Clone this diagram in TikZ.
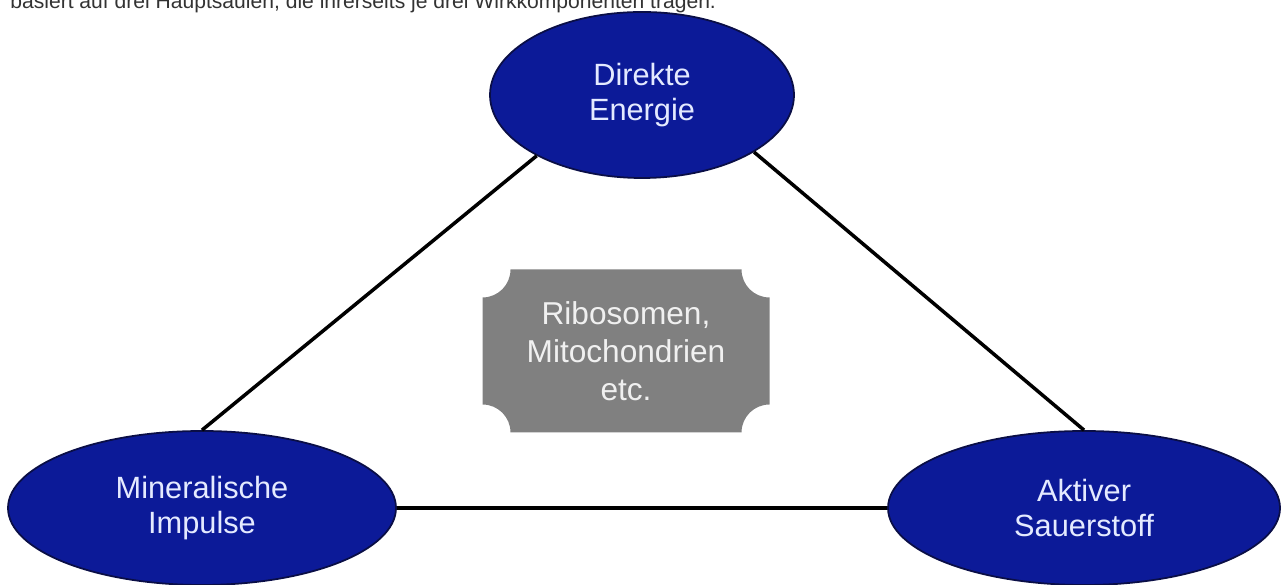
\documentclass[tikz,border=0pt]{standalone}
\usepackage{fontspec}
\setmainfont{Liberation Sans}
\usepackage{tikz}
\usetikzlibrary{
  positioning,
  calc,
  shapes.geometric
}
\definecolor{pillarblue}{RGB}{12,26,152}
\definecolor{pillaredge}{RGB}{10,14,70}
\definecolor{pillartext}{RGB}{228,234,255}
\definecolor{plaquegray}{RGB}{128,128,128}
\definecolor{plaquetext}{RGB}{240,240,240}

\begin{document}
\begin{tikzpicture}[
			pillar/.style={ellipse, draw=pillaredge, line width=1pt, fill=pillarblue,
				text=pillartext, align=center, inner sep=0pt,
				font=\fontsize{17.5}{20}\selectfont},
			plq/.style={align=center, inner sep=0pt, minimum width=5.74cm,
				minimum height=3.26cm, text=plaquetext,
				font=\fontsize{18}{21.5}\selectfont},
			ed/.style={-, black, line width=2pt},
			captxt/.style={anchor=base west, inner sep=0pt, text=black!80,
				font=\fontsize{12}{14}\selectfont}
			]
			\useasboundingbox (0,0) rectangle (25.66,11.7);
			% caption line, cut off at the top edge
			\node[captxt] (top) at (0.2,11.52)
			{basiert auf drei Hauptsäulen, die ihrerseits je drei Wirkkomponenten tragen.};
			% the three pillars
			\node[pillar, minimum width=6.08cm, minimum height=3.32cm] (DE) at (12.84,9.80)
			{Direkte\\ Energie};
			\node[pillar, minimum width=7.76cm, minimum height=3.08cm] (MI) at (4.04,1.54)
			{Mineralische\\ Impulse};
			\node[pillar, minimum width=7.84cm, minimum height=3.08cm] (AS) at (21.68,1.54)
			{Aktiver\\ Sauerstoff};
			\draw[ed] (DE.210)--(MI.north); \draw[ed] (DE.333)--(AS.north);
			\draw[ed] (MI.east)--(AS.west);
			% plaque in the middle
			\def\r{0.56}
			\fill[plaquegray]
				($(12.52,4.68)+(-2.87+\r,1.63)$) -- ($(12.52,4.68)+(2.87-\r,1.63)$)
				arc[start angle=180, end angle=270, radius=\r]
				-- ($(12.52,4.68)+(2.87,-1.63+\r)$)
				arc[start angle=90, end angle=180, radius=\r]
				-- ($(12.52,4.68)+(-2.87+\r,-1.63)$)
				arc[start angle=0, end angle=90, radius=\r]
				-- ($(12.52,4.68)+(-2.87,1.63-\r)$)
				arc[start angle=270, end angle=360, radius=\r] -- cycle;
			\node[plq] (RM) at (12.52,4.68) {Ribosomen,\\ Mitochondrien\\ etc.};
	\end{tikzpicture}
\end{document}
